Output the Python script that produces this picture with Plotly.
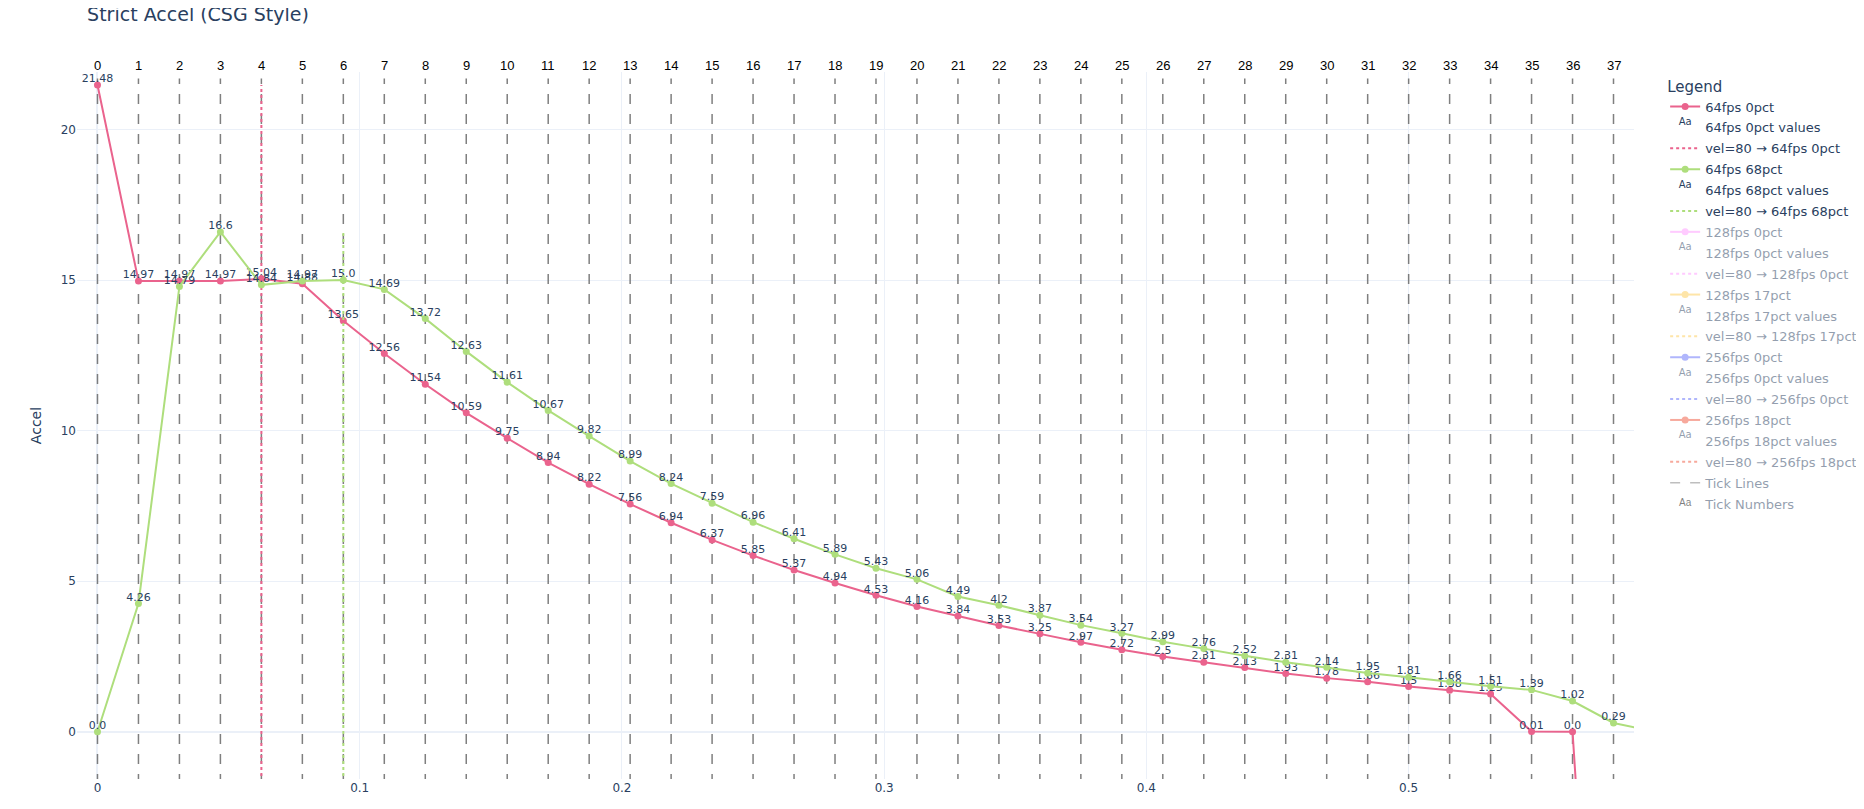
import plotly.graph_objects as go

FPS = 64
TITLE = "Strict Accel (CSG Style)"

# Series values (acceleration per frame, frame i at t = i/fps s)
SERIES_NAMES = ["64fps 0pct", "64fps 68pct", "128fps 0pct", "128fps 17pct", "256fps 0pct", "256fps 18pct"]
SERIES_FPS = [64, 64, 128, 128, 256, 256]
ACCEL_64_0 = [21.48, 14.97, 14.97, 14.97, 15.04, 14.88, 13.65, 12.56, 11.54, 10.59,
              9.75, 8.94, 8.22, 7.56, 6.94, 6.37, 5.85, 5.37, 4.94, 4.53,
              4.16, 3.84, 3.53, 3.25, 2.97, 2.72, 2.5, 2.31, 2.13, 1.93,
              1.78, 1.66, 1.5, 1.38, 1.25, 0.01, 0.0, -21.0]
ACCEL_64_68 = [0.0, 4.26, 14.79, 16.6, 14.84, 14.97, 15.0, 14.69, 13.72, 12.63,
               11.61, 10.67, 9.82, 8.99, 8.24, 7.59, 6.96, 6.41, 5.89, 5.43,
               5.06, 4.49, 4.2, 3.87, 3.54, 3.27, 2.99, 2.76, 2.52, 2.31,
               2.14, 1.95, 1.81, 1.66, 1.51, 1.39, 1.02, 0.29, 0.01]
# hidden (legend-only) series: values not visible in the picture
ACCEL_128_0 = [None]
ACCEL_128_17 = [None]
ACCEL_256_0 = [None]
ACCEL_256_18 = [None]
SERIES_VALUES = [ACCEL_64_0, ACCEL_64_68, ACCEL_128_0, ACCEL_128_17, ACCEL_256_0, ACCEL_256_18]
# frame at which velocity reaches 80
VEL80_FRAME = [4, 6, None, None, None, None]
SERIES_VISIBLE = [True, True, "legendonly", "legendonly", "legendonly", "legendonly"]
COLORS = ["#EA638D", "#AEDE7C", "#FF97FF", "#FECB52", "#636EFA", "#EF553B"]

# frame tick labels
TICK_FRAMES = list(range(38))
TICK_LABELS = [str(i) for i in TICK_FRAMES]

fig = go.Figure()

all_vals = [v for s, vis in zip(SERIES_VALUES, SERIES_VISIBLE) if vis is True for v in s]
gmin = min(all_vals)
gmax = max(all_vals)
Y_RANGE = [-1.57, gmax * 1.02]

# Visible frame tick lines (drawn beneath)
tx, ty = [], []
for f in TICK_FRAMES:
    tx += [f / FPS, f / FPS, None]
    ty += [gmin, gmax * 1.01, None]
tick_line_style = dict(color="rgba(105,105,105,0.85)", width=1.5, dash="10px,10px")
fig.add_trace(go.Scatter(x=tx, y=ty, mode="lines", line=tick_line_style,
                         showlegend=False, hoverinfo="skip"))

for name, fps, vals, vf, vis, col in zip(SERIES_NAMES, SERIES_FPS, SERIES_VALUES,
                                          VEL80_FRAME, SERIES_VISIBLE, COLORS):
    xs = [i / fps for i in range(len(vals))]
    fig.add_trace(go.Scatter(x=xs, y=vals, mode="lines+markers", name=name,
                             legendgroup=name,
                             line=dict(color=col, width=2), marker=dict(color=col, size=7),
                             visible=vis))
    fig.add_trace(go.Scatter(x=xs, y=vals, mode="text", name=f"{name} values",
                             legendgroup=f"{name} values",
                             text=[str(v) for v in vals], textposition="top center",
                             textfont=dict(size=11, color="#2a3f5f"), visible=vis))
    if vf is not None:
        vx = [vf / fps, vf / fps]
        vy = [gmin, max(vals)]
    else:
        vx, vy = [None], [None]
    fig.add_trace(go.Scatter(x=vx, y=vy, mode="lines", name=f"vel=80 \u2192 {name}",
                             legendgroup=f"vel {name}",
                             line=dict(color=col, width=2, dash="dot"), visible=vis))

# Legend-only entries
fig.add_trace(go.Scatter(x=tx, y=ty, mode="lines", name="Tick Lines", legendgroup="ticklines",
                         line=tick_line_style, visible="legendonly"))
num_x = [f / FPS for f in TICK_FRAMES]
num_y = [gmax * 1.03 for _ in TICK_FRAMES]
fig.add_trace(go.Scatter(x=num_x, y=num_y, mode="text", name="Tick Numbers",
                         legendgroup="ticknumbers",
                         text=TICK_LABELS, textposition="middle center",
                         textfont=dict(family="Arial, Liberation Sans", size=13, color="black"),
                         visible="legendonly"))

# Visible tick numbers above the plot area (x in data coords, y in paper fraction)
for xv, yv, lab in zip(num_x, num_y, TICK_LABELS):
    fig.add_annotation(x=xv, xref="x", y=(yv - Y_RANGE[0]) / (Y_RANGE[1] - Y_RANGE[0]),
                       yref="paper", text=lab, showarrow=False, yanchor="middle",
                       font=dict(family="Arial, Liberation Sans", size=13, color="black"))

fig.update_layout(
    template="plotly_white",
    font=dict(family="DejaVu Sans, Verdana, sans-serif", size=12),
    title=dict(text=TITLE, font=dict(size=19), x=0.0428, xanchor="left",
               y=1.0, yanchor="top"),
    margin=dict(l=69, r=222, t=64, b=22, autoexpand=False),
    legend=dict(title=dict(text="Legend", font=dict(size=15)), font=dict(size=13),
                tracegroupgap=1),
    xaxis=dict(range=[-0.5 / FPS, 37.5 / FPS]),
    yaxis=dict(range=Y_RANGE, title=dict(text="Accel")),
)

fig.write_html("out.html")
